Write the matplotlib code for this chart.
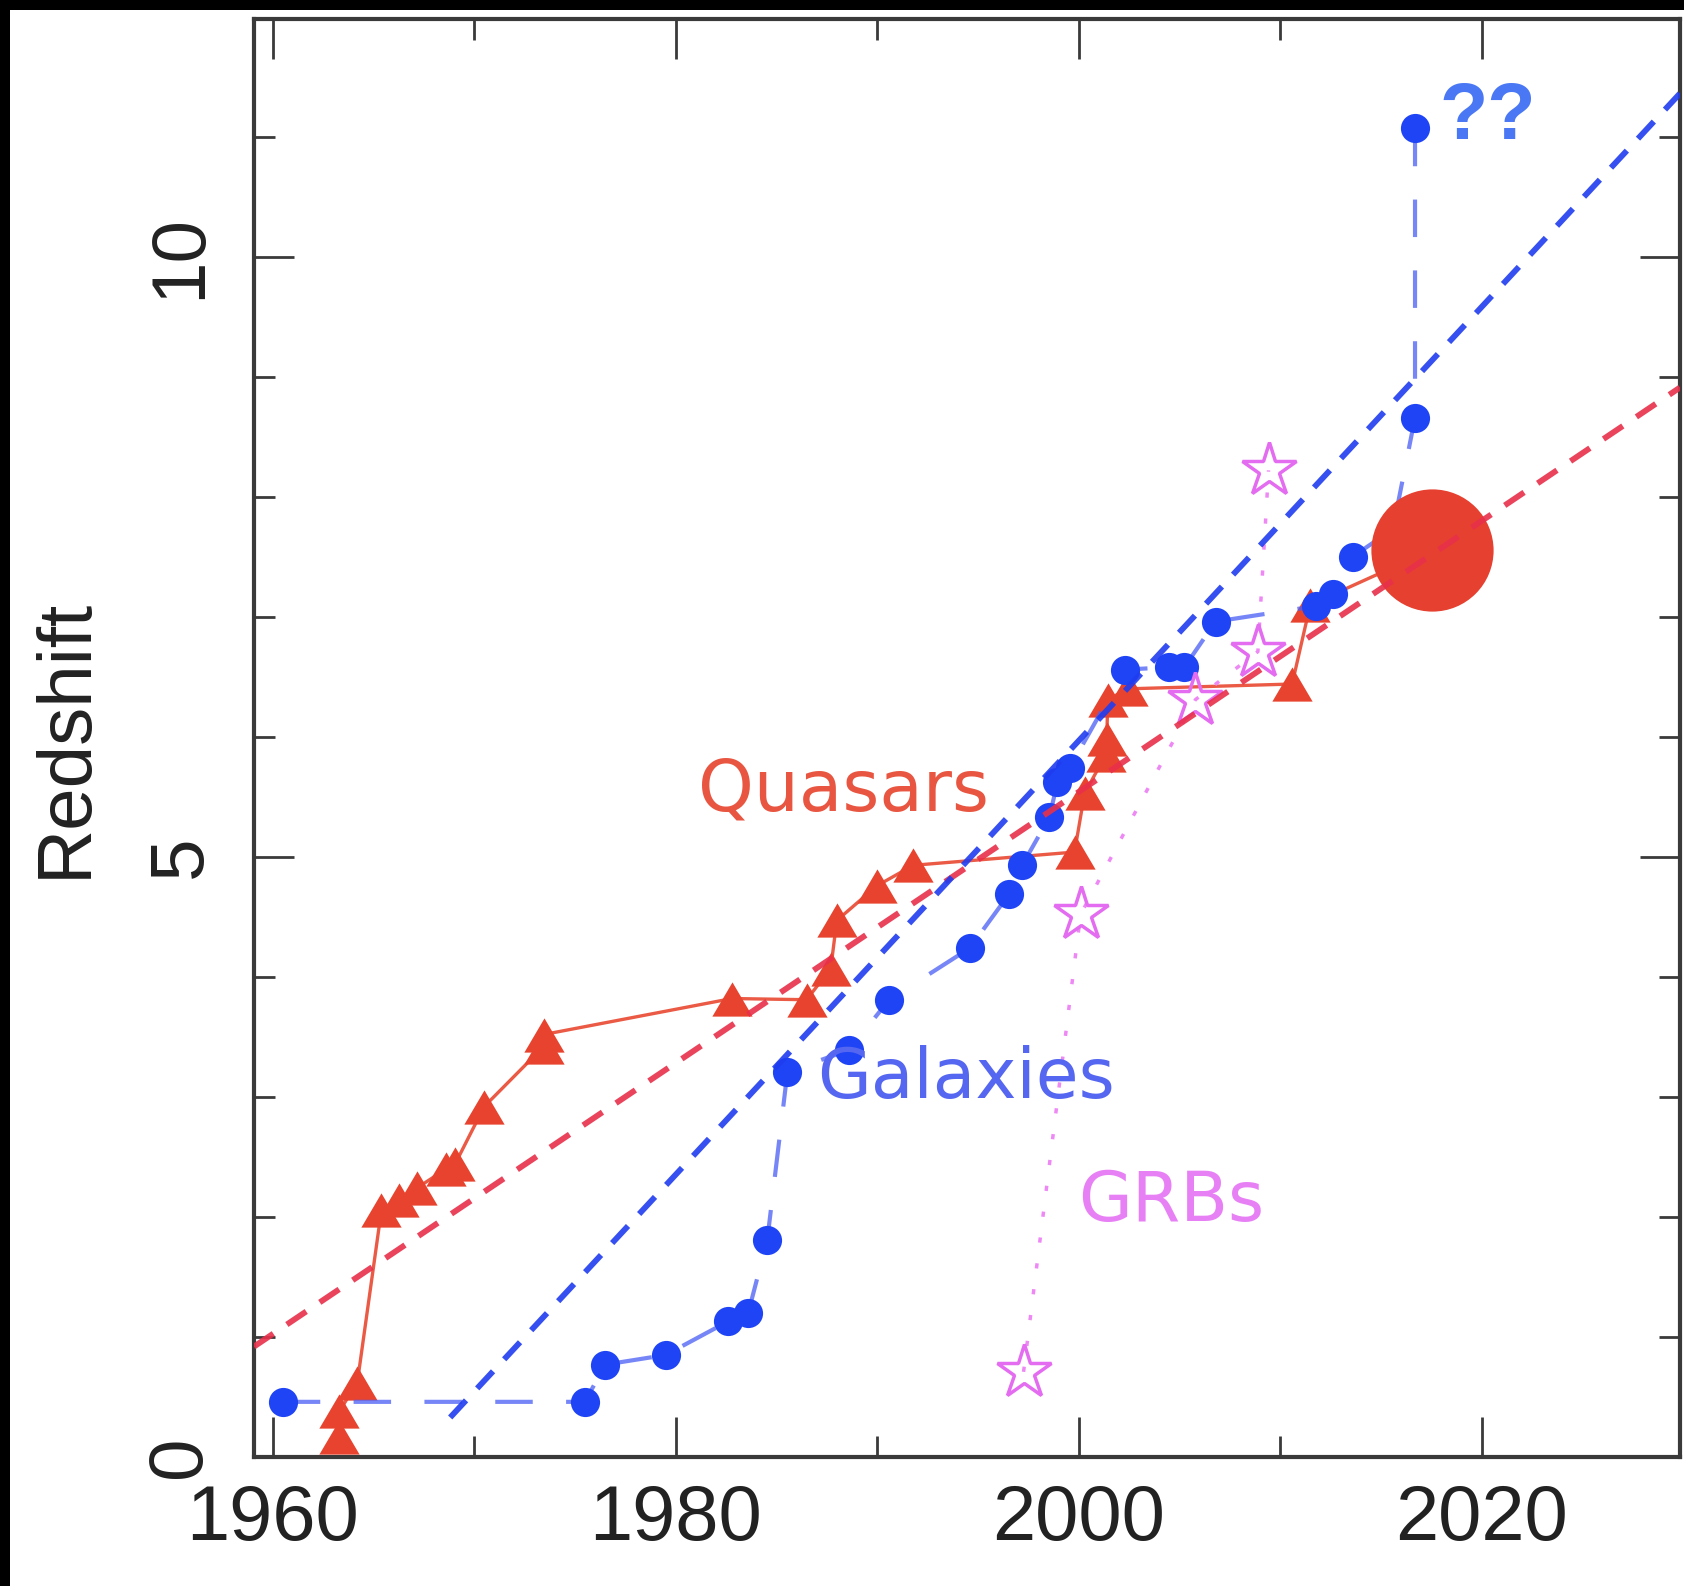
import matplotlib
matplotlib.use("Agg")
import matplotlib.pyplot as plt
from matplotlib.patches import Rectangle
from matplotlib.ticker import MultipleLocator

# Record redshifts by year of discovery
quasar_year = [1963.3, 1963.3, 1964.2, 1965.4, 1966.25, 1967.15, 1968.6, 1969.05,
               1970.5, 1973.45, 1973.45, 1982.8, 1986.5, 1987.7, 1988.0, 1990.0,
               1991.8, 1999.8, 2000.3, 2001.35, 2001.4, 2001.45, 2002.45, 2010.6,
               2011.5]
quasar_z = [0.17, 0.38, 0.62, 2.06, 2.14, 2.24, 2.40, 2.44,
            2.92, 3.42, 3.52, 3.82, 3.81, 4.07, 4.47, 4.76,
            4.93, 5.04, 5.53, 5.85, 5.98, 6.31, 6.40, 6.44,
            7.10]
record_year = [2017.55]
record_z = [7.56]

galaxy_year = [1960.5, 1975.5, 1976.5, 1979.5, 1982.6, 1983.6, 1984.55, 1985.55,
               1988.6, 1990.6, 1994.6, 1996.55, 1997.2, 1998.55, 1998.95, 1999.55,
               2002.3, 2004.5, 2005.25, 2006.8, 2011.8, 2012.65, 2013.6, 2015.6,
               2016.7, 2016.7]
galaxy_z = [0.46, 0.46, 0.77, 0.85, 1.13, 1.20, 1.81, 3.21,
            3.39, 3.81, 4.24, 4.69, 4.93, 5.33, 5.62, 5.74,
            6.56, 6.58, 6.58, 6.96, 7.09, 7.19, 7.50, 7.73,
            8.66, 11.07]

grb_year = [1997.27, 2000.1, 2005.8, 2008.9, 2009.43]
grb_z = [0.71, 4.52, 6.31, 6.71, 8.22]

# straight-line trends
quasar_trend_year = [1959.07, 2029.85]
quasar_trend_z = [0.92, 8.91]
galaxy_trend_year = [1968.81, 2029.85]
galaxy_trend_z = [0.33, 11.36]

RED = "#e8432e"
BLUE = "#1e44f5"
PINK = "#e46cf0"

tri = [(-1, -0.85), (1, -0.85), (0, 0.85), (-1, -0.85)]

fig = plt.figure(figsize=(16.84, 15.86), dpi=100, facecolor="black")
fig.patches.append(Rectangle((10 / 1684, 0), 1, 1 - 10 / 1586, transform=fig.transFigure,
                             facecolor="white", edgecolor="none", zorder=-5))
ax = fig.add_axes([0.1508, 0.0813, 0.8468, 0.9067])

# quasars
ax.plot(quasar_year + record_year, quasar_z + record_z, "-", color="#ea5a45", lw=2.4, zorder=2)
ax.plot(quasar_year, quasar_z, ls="none", marker=tri, ms=29, color=RED, mew=0, zorder=3)

# galaxies
ax.plot(galaxy_year, galaxy_z, color="#4a5ef5", alpha=0.75, lw=3, ls=(0, (9, 8)), zorder=4)
ax.plot(galaxy_year, galaxy_z, ls="none", marker="o", ms=21, color=BLUE, mew=0, zorder=4.5)

# gamma-ray bursts
ax.plot(grb_year, grb_z, color="#ee88f5", lw=2.5, ls=(0, (1.5, 6)), zorder=5)
ax.plot(grb_year, grb_z, ls="none", marker="*", ms=41, mfc="none", mec=PINK, mew=2.5, zorder=5)

# current quasar record
ax.plot(record_year, record_z, ls="none", marker="o", ms=88, color="#e64030", mew=0, zorder=5.5)

# trends
ax.plot(quasar_trend_year, quasar_trend_z, color="#e8304a", lw=4.2, ls=(0, (4, 2.8)), alpha=0.9, zorder=6)
ax.plot(galaxy_trend_year, galaxy_trend_z, color="#1f3cf0", lw=4.2, ls=(0, (4, 2.8)), alpha=0.9, zorder=6)

# labels
ax.text(1981.1, 5.39, "Quasars", color="#e85540", fontsize=51, family="DejaVu Sans",
        ha="left", va="baseline", zorder=7)
ax.text(1987.0, 2.99, "Galaxies", color="#5566f0", fontsize=50, family="DejaVu Sans",
        ha="left", va="baseline", zorder=7)
ax.text(2000.0, 1.97, "GRBs", color="#e880f5", fontsize=50, family="DejaVu Sans",
        ha="left", va="baseline", zorder=7)
ax.text(2017.9, 10.98, "??", color="#4a78f5", fontsize=57, fontweight="bold",
        family="Liberation Sans", ha="left", va="baseline", zorder=7)

ax.set_xlim(1959.07, 2029.85)
ax.set_ylim(0, 11.98)
ax.xaxis.set_major_locator(MultipleLocator(20))
ax.xaxis.set_minor_locator(MultipleLocator(10))
ax.yaxis.set_major_locator(MultipleLocator(5))
ax.yaxis.set_minor_locator(MultipleLocator(1))
ax.ticklabel_format(useOffset=False)

for s in ax.spines.values():
    s.set_linewidth(3)
    s.set_color("#3a3a3a")
ax.tick_params(which="both", direction="in", top=True, right=True, color="#3a3a3a", width=2)
ax.tick_params(which="major", length=29)
ax.tick_params(which="minor", length=15)
ax.tick_params(axis="x", which="major", pad=19, labelsize=56, labelcolor="#222222")
ax.tick_params(axis="y", which="major", pad=27, labelsize=55, labelcolor="#222222", labelrotation=90)
for lab in ax.get_xticklabels() + ax.get_yticklabels():
    lab.set_family("Liberation Sans")
for lab in ax.get_yticklabels():
    lab.set_va("center")

ax.set_ylabel("Redshift", fontsize=55, family="Liberation Sans", color="#222222")
ax.yaxis.set_label_coords(-0.1066, 0.5)

fig.savefig("out.png", dpi=100, facecolor=fig.get_facecolor())
